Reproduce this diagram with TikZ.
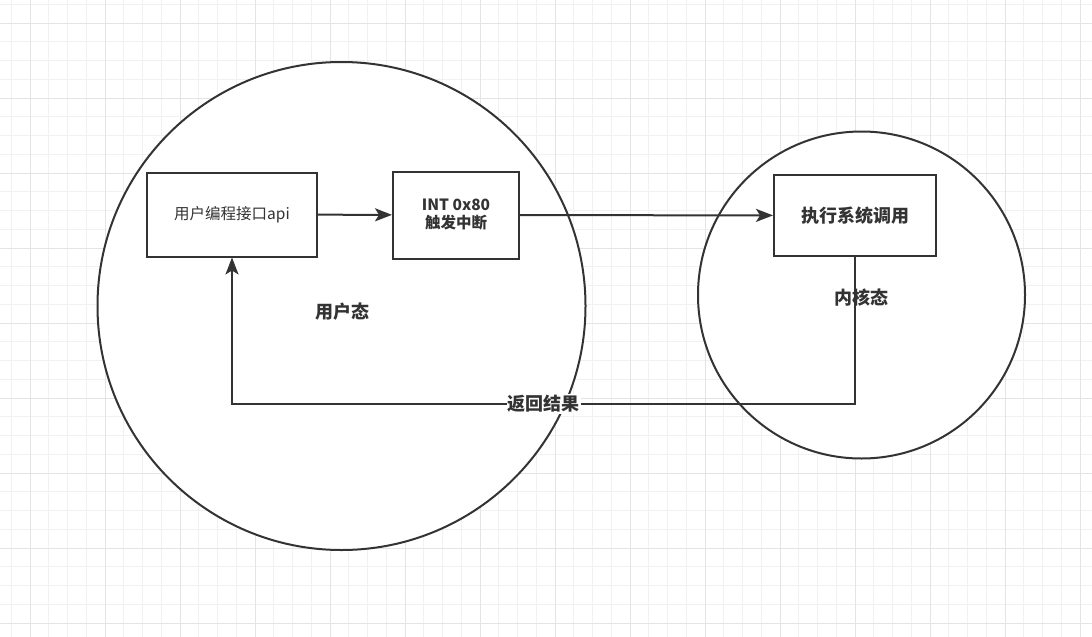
\documentclass[tikz,border=0pt]{standalone}
\usepackage{fontspec}
\setmainfont{Noto Sans CJK SC}
\usetikzlibrary{arrows.meta}
\definecolor{ink}{HTML}{333333}
\definecolor{gridminor}{HTML}{F1F1F1}
\definecolor{gridmajor}{HTML}{E4E4E4}
\begin{document}
\begin{tikzpicture}[x=1pt,y=-1pt,line width=2pt,draw=ink,text=ink,
    box/.style={rectangle,draw,fill=white,inner sep=0pt},
    lbl/.style={font=\bfseries\fontsize{18}{20}\selectfont},
    flow/.style={-{Stealth[length=17pt,width=13pt,inset=4pt]}}]

        \useasboundingbox (0,0) rectangle (1092,637);
        \fill[white] (0,0) rectangle (1092,637);

        % grid
        \foreach \x in {11.25,30,...,1092} \draw[gridminor,line width=.8pt] (\x,0) -- (\x,637);
        \foreach \y in {4.25,23,...,637} \draw[gridminor,line width=.8pt] (0,\y) -- (1092,\y);
        \foreach \x in {30,105,...,1092} \draw[gridmajor,line width=.8pt] (\x,0) -- (\x,637);
        \foreach \y in {23,98,...,637} \draw[gridmajor,line width=.8pt] (0,\y) -- (1092,\y);

        \draw[fill=white] (341.5,306) circle (244);
        \draw[fill=white] (861.5,295) circle (163.5);

        \begin{scope}[every node/.style={box}]
          \node[minimum width=170pt,minimum height=84pt,font=\fontsize{15.5}{18}\selectfont]
            (api) at (232,214.5) {用户编程接口api};
          \node[minimum width=126pt,minimum height=87pt,font=\bfseries\fontsize{15.5}{18}\selectfont,
            align=center] (int) at (456,215) {INT 0x80\\触发中断};
          \node[minimum width=162pt,minimum height=81pt,font=\bfseries\fontsize{18}{20}\selectfont]
            (sys) at (855,215.5) {执行系统调用};
        \end{scope}

        \node[lbl] (user) at (342,312) {用户态};
        \node[lbl] (kernel) at (861,298) {内核态};

        \coordinate (turn) at (855,404);
        \coordinate (back) at (232,404);

        \path (api) edge[flow] (int);
        \path (int) edge[flow] (sys);
        \draw[flow] (sys.south) -- (turn) -- node[lbl,fill=white,inner sep=1pt] (ret) {返回结果} (back) -- (api.south);

      \end{tikzpicture}
\end{document}
